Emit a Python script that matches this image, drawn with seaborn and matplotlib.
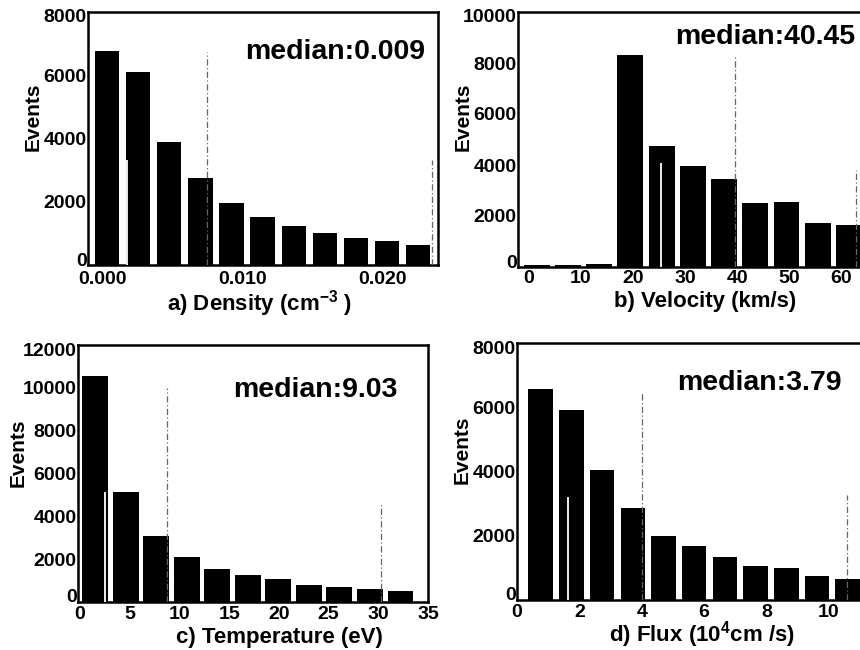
import numpy as np
import pandas as pd
import matplotlib
matplotlib.use("Agg")
import matplotlib.pyplot as plt
import matplotlib.transforms as mtransforms
import seaborn as sns

# ---- histogram data (bin edges and event counts) ----
density_edges = [-0.00081, 0.00141, 0.00363, 0.00585, 0.00807, 0.01029,
                 0.01251, 0.01473, 0.01695, 0.01917, 0.02139, 0.02361]
density_counts = [6770, 6110, 3880, 2740, 1970, 1520, 1230, 1000, 850, 750, 630]

velocity_edges = [-1.5, 4.5, 10.5, 16.5, 22.5, 28.5, 34.5, 40.5, 46.5, 52.5, 58.5, 64.5]
velocity_counts = [60, 60, 120, 8330, 4750, 3950, 3440, 2510, 2540, 1740, 1630]

temperature_edges = [0.0, 3.07, 6.14, 9.21, 12.28, 15.35, 18.42, 21.49,
                     24.56, 27.63, 30.70, 33.77]
temperature_counts = [10550, 5140, 3070, 2100, 1560, 1250, 1090, 780, 700, 620, 520]

flux_edges = [0.27, 1.25, 2.24, 3.22, 4.21, 5.19, 6.17, 7.16, 8.14, 9.13, 10.11, 11.09]
flux_counts = [6570, 5900, 4040, 2850, 2000, 1670, 1350, 1050, 990, 750, 655]

# quartile markers: (x, height) for lower quartile, median, upper quartile
density_marks = [(0.0017, 3320), (0.00743, 6750), (0.02348, 3320)]
velocity_marks = [(25.3, 4090), (39.6, 8300), (62.9, 3790)]
temperature_marks = [(2.55, 5140), (8.8, 9970), (30.3, 4670)]
flux_marks = [(1.63, 3220), (4.0, 6440), (10.58, 3270)]

median_labels = ["median:0.009", "median:40.45", "median:9.03", "median:3.79"]
x_labels = ["a) Density (cm$^{-3}$ )", "b) Velocity (km/s)",
            "c) Temperature (eV)", "d) Flux (10$^{4}$cm /s)"]

sns.set_theme(style="white")
plt.rcParams["font.family"] = ["Liberation Sans", "DejaVu Sans"]
plt.rcParams["font.weight"] = "bold"
plt.rcParams["mathtext.fontset"] = "custom"
plt.rcParams["mathtext.rm"] = "Liberation Sans:bold"
plt.rcParams["mathtext.bf"] = "Liberation Sans:bold"
plt.rcParams["mathtext.default"] = "bf"

W, H = 860, 650
fig = plt.figure(figsize=(W / 100, H / 100), dpi=100)


def px_axes(left, top, right, bottom):
    return fig.add_axes([left / W, 1 - bottom / H, (right - left) / W, (bottom - top) / H])


panels = [
    dict(box=(88, 12, 438, 265), edges=density_edges, counts=density_counts,
         marks=density_marks, shrink=0.78, xlim=(-0.00107, 0.02393), ylim=(0, 8000),
         xticks=[0.0, 0.01, 0.02], xfmt="{:.3f}", yticks=range(0, 8001, 2000),
         xpad=4, med_xy=(0.963, 0.842), xlab_px=(260, 304), ylab_px=(33, 117)),
    dict(box=(518, 12, 862, 267), edges=velocity_edges, counts=velocity_counts,
         marks=velocity_marks, shrink=0.83, xlim=(-2.1, 64.0), ylim=(0, 10000),
         xticks=range(0, 61, 10), xfmt="{:.0f}", yticks=range(0, 10001, 2000),
         xpad=2, med_xy=(0.98, 0.902), xlab_px=(705, 302), ylab_px=(463, 117)),
    dict(box=(78, 345, 428, 602), edges=temperature_edges, counts=temperature_counts,
         marks=temperature_marks, shrink=0.85, xlim=(-0.2, 34.1), ylim=(0, 12000),
         xticks=range(0, 36, 5), xfmt="{:.0f}", yticks=range(0, 12001, 2000),
         xpad=3, med_xy=(0.914, 0.825), xlab_px=(279, 637), ylab_px=(18, 453)),
    dict(box=(517, 343, 862, 600), edges=flux_edges, counts=flux_counts,
         marks=flux_marks, shrink=0.80, xlim=(0.17, 11.06), ylim=(0, 8000),
         xticks=range(0, 11, 2), xfmt="{:.0f}", yticks=range(0, 8001, 2000),
         xpad=3, med_xy=(0.942, 0.844), xlab_px=(702, 635), ylab_px=(462, 450)),
]

# small vertical nudges for the end labels of the y axis
lift = mtransforms.ScaledTranslation(0, 6 / 100, fig.dpi_scale_trans)
drop = mtransforms.ScaledTranslation(0, -4 / 100, fig.dpi_scale_trans)

for p, med_text, xlab in zip(panels, median_labels, x_labels):
    ax = px_axes(*p["box"])
    edges = list(p["edges"])
    centers = [(a + b) / 2 for a, b in zip(edges[:-1], edges[1:])]
    df = pd.DataFrame({"value": centers, "events": p["counts"]})
    sns.histplot(data=df, x="value", weights="events", bins=edges, shrink=p["shrink"],
                 color="black", edgecolor="black", linewidth=0, alpha=1.0, ax=ax)

    # quartile / median markers
    (xq1, hq1), (xm, hm), (xq3, hq3) = p["marks"]
    ax.vlines(xq1, 0, hq1, color="white", lw=1.3, zorder=3)
    for xv, hv in [(xm, hm), (xq3, hq3)]:
        ax.vlines(xv, 0, hv, color="0.4", lw=0.9, linestyles=[(0, (5, 2, 1, 2))], zorder=3)

    ax.set_xlim(*p["xlim"])
    ax.set_ylim(*p["ylim"])
    ax.set_xticks(list(p["xticks"]))
    ax.set_xticklabels([p["xfmt"].format(v) for v in p["xticks"]])
    ax.set_yticks(list(p["yticks"]))
    ax.set_yticklabels([str(v) for v in p["yticks"]])
    ax.tick_params(axis="both", length=0, labelsize=14, labelcolor="black")
    ax.tick_params(axis="y", pad=1)
    ax.tick_params(axis="x", pad=p["xpad"])
    for lab in ax.get_xticklabels() + ax.get_yticklabels():
        lab.set_fontweight("bold")
    ylabs = ax.get_yticklabels()
    ylabs[0].set_transform(ylabs[0].get_transform() + lift)
    ylabs[-1].set_transform(ylabs[-1].get_transform() + drop)
    ax.set_xlabel("")
    ax.set_ylabel("")
    for s in ax.spines.values():
        s.set_visible(True)
        s.set_color("black")
        s.set_linewidth(1.8)

    ax.text(*p["med_xy"], med_text, transform=ax.transAxes, ha="right", va="center",
            fontsize=20.5, fontweight="bold", color="black")
    fig.text(p["xlab_px"][0] / W, 1 - p["xlab_px"][1] / H, xlab, ha="center", va="center",
             fontsize=16, fontweight="bold", color="black")
    fig.text(p["ylab_px"][0] / W, 1 - p["ylab_px"][1] / H, "Events", ha="center",
             va="center", rotation=90, fontsize=15, fontweight="bold", color="black")

fig.savefig("out.png", dpi=100, facecolor="white")
